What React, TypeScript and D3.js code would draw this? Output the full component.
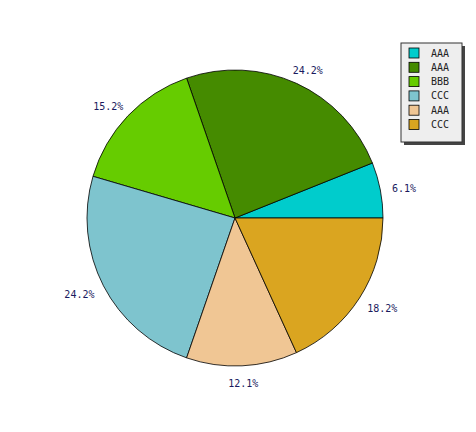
import React from "react";
import * as d3 from "d3";

const categories = ["AAA", "AAA", "BBB", "CCC", "AAA", "CCC"];
const values = [2, 8, 5, 8, 4, 6];
const colors = ["#00CCCC", "#458B00", "#66CC00", "#7EC4CE", "#F0C694", "#DAA520"];

const W = 476, H = 432;
const cx = 235, cy = 218, R = 148, LR = 160;
const CHAR_W = 6.02, TEXT_H = 8;

export default function App() {
  const total = d3.sum(values);
  // start at 3 o'clock, counterclockwise
  const pie = d3.pie<number>().sort(null).value((d) => d)
    .startAngle(Math.PI / 2).endAngle(Math.PI / 2 - 2 * Math.PI);
  const arcs = pie(values);
  const arc = d3.arc<d3.PieArcDatum<number>>().innerRadius(0).outerRadius(R);
  const fmt = d3.format(".1f");
  const legendX = 401, legendY = 43, legendW = 61, legendH = 99, rowH = 14.3;
  return (
    <svg width={W} height={H} style={{ position: "absolute", left: 0, top: 0, background: "#fff" }}>
      <g transform={`translate(${cx},${cy})`}>
        {arcs.map((a, i) => (
          <path key={i} d={arc(a) || ""} fill={colors[i]} stroke="#000" strokeWidth={0.8} />
        ))}
        {arcs.map((a, i) => {
          const m = (a.startAngle + a.endAngle) / 2;
          const s = Math.sin(m), c = Math.cos(m); // s: rightward, c: upward
          const label = fmt((a.data / total) * 100) + "%";
          const w = label.length * CHAR_W;
          const x = LR * s + (w * s) / 2;
          const y = -LR * c - (TEXT_H * c) / 2 + 1.5;
          return (
            <text key={"l" + i} x={x} y={y} textAnchor="middle" dominantBaseline="central"
              fontFamily="DejaVu Sans Mono" fontSize={10} fill="#1a1a5e">
              {label}
            </text>
          );
        })}
      </g>
      <rect x={legendX + 3} y={legendY + 3} width={legendW} height={legendH} fill="#444" />
      <rect x={legendX} y={legendY} width={legendW} height={legendH} fill="#eeeeee" stroke="#333" strokeWidth={1} />
      {categories.map((c, i) => (
        <g key={"g" + i} transform={`translate(${legendX + 8},${legendY + 10 + i * rowH})`}>
          <rect x={0} y={-5} width={10} height={10} fill={colors[i]} stroke="#000" strokeWidth={0.8} />
          <text x={22} y={0} dominantBaseline="central" fontFamily="DejaVu Sans Mono" fontSize={10} fill="#222">{c}</text>
        </g>
      ))}
    </svg>
  );
}
